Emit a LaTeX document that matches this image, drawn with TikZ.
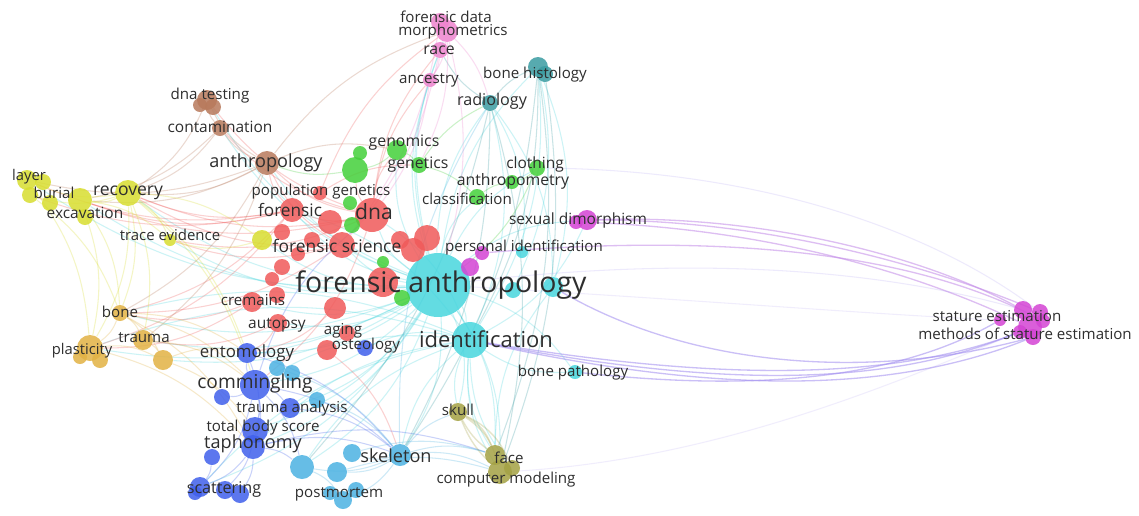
\documentclass[tikz,border=0pt]{standalone}
\usepackage{fontspec}
\setmainfont{Open Sans}
\pgfdeclarelayer{back}
\pgfdeclarelayer{bg}
\pgfsetlayers{back,bg,main}
\definecolor{vred}{HTML}{F05A5A}
\definecolor{vgreen}{HTML}{44D03A}
\definecolor{vblue}{HTML}{4060EC}
\definecolor{vyellow}{HTML}{D8DE30}
\definecolor{vmag}{HTML}{D444D4}
\definecolor{vcyan}{HTML}{48D6DE}
\definecolor{vsky}{HTML}{4CB2E2}
\definecolor{vorange}{HTML}{E2B244}
\definecolor{vbrown}{HTML}{B87A5C}
\definecolor{vpink}{HTML}{EE84CE}
\definecolor{vteal}{HTML}{3A9CA2}
\definecolor{volive}{HTML}{A4A244}
\definecolor{vlav}{HTML}{A08CF0}
\definecolor{vlav2}{HTML}{C28AE8}
\definecolor{labtxt}{HTML}{2E2E2E}
\newcommand\fsz[1]{\fontsize{#1}{#1}\selectfont}
\newcommand\vn[5]{\node[vc,fill=#5,minimum size=#4*0.04cm] (#1) at (#2,#3) {};}
\newcommand\vl[5]{\node[vlab,font=\fsz{#4}] (#1) at (#2,#3) {#5};}
\begin{document}
\begin{tikzpicture}[x=0.02cm,y=-0.02cm,
  vc/.style={circle,inner sep=0pt,draw=none,fill opacity=0.85},
  vlab/.style={inner sep=0pt,text=labtxt},
  lk/.style={line width=0.6pt,draw opacity=0.28},
  lkb/.style={line width=0.75pt,draw opacity=0.55}]
\useasboundingbox (0,0) rectangle (1139,515);
\begin{pgfonlayer}{back}
\fill[white] (0,0) rectangle (1139,515);
\end{pgfonlayer}
% ---------- circles ----------
% cyan
\vn{fa}{438}{285}{32}{vcyan}
\vn{ident}{470}{340}{18}{vcyan}
\vn{bpath}{575}{372}{7}{vcyan}
\vn{pid}{522}{252}{6}{vcyan}
\vn{cy1}{553}{287}{10}{vcyan}
\vn{cy2}{513}{290}{8}{vcyan}
% sky
\vn{skel}{400}{455}{11}{vsky}
\vn{sk1}{277}{368}{8}{vsky}
\vn{sk2}{292}{373}{8}{vsky}
\vn{sk3}{317}{400}{8}{vsky}
\vn{sk4}{302}{467}{12}{vsky}
\vn{sk5}{337}{472}{10}{vsky}
\vn{sk6}{352}{453}{9}{vsky}
\vn{sk7}{343}{500}{9}{vsky}
\vn{sk8}{356}{490}{8}{vsky}
\vn{sk9}{330}{493}{7}{vsky}
% blue
\vn{ento}{247}{353}{10}{vblue}
\vn{comm}{255}{385}{15}{vblue}
\vn{trana}{290}{408}{10}{vblue}
\vn{tbs}{255}{430}{13}{vblue}
\vn{taph}{253}{447}{12}{vblue}
\vn{bl1}{222}{397}{8}{vblue}
\vn{bl2}{212}{457}{8}{vblue}
\vn{scat1}{200}{487}{10}{vblue}
\vn{scat2}{225}{490}{9}{vblue}
\vn{scat3}{240}{494}{9}{vblue}
\vn{scat4}{195}{493}{7}{vblue}
\vn{ost}{365}{348}{8}{vblue}
% red
\vn{dna}{372}{215}{17}{vred}
\vn{forensic}{292}{210}{12}{vred}
\vn{popgen}{320}{193}{7}{vred}
\vn{r1}{330}{222}{12}{vred}
\vn{r2}{282}{232}{8}{vred}
\vn{fsci}{342}{245}{13}{vred}
\vn{r3}{312}{240}{8}{vred}
\vn{r4}{298}{254}{7}{vred}
\vn{r5}{282}{267}{8}{vred}
\vn{r6}{272}{279}{7}{vred}
\vn{r7}{277}{295}{8}{vred}
\vn{crem}{252}{302}{10}{vred}
\vn{aut}{278}{323}{9}{vred}
\vn{r8}{335}{308}{11}{vred}
\vn{r9}{383}{282}{15}{vred}
\vn{r10}{327}{350}{10}{vred}
\vn{aging}{347}{333}{8}{vred}
\vn{r11}{427}{238}{13}{vred}
\vn{r12}{413}{250}{12}{vred}
\vn{r13}{400}{240}{9}{vred}
% green
\vn{g1}{350}{203}{7}{vgreen}
\vn{g2}{352}{225}{8}{vgreen}
\vn{g3}{383}{262}{6}{vgreen}
\vn{g4}{402}{298}{8}{vgreen}
\vn{gen1}{360}{153}{7}{vgreen}
\vn{gen2}{355}{170}{13}{vgreen}
\vn{genomics}{397}{150}{10}{vgreen}
\vn{genetics}{419}{165}{8}{vgreen}
\vn{cloth}{537}{168}{8}{vgreen}
\vn{anthrom}{512}{182}{7}{vgreen}
\vn{classif}{477}{197}{8}{vgreen}
% magenta
\vn{sd}{587}{220}{10}{vmag}
\vn{sd2}{576}{222}{7}{vmag}
\vn{m1}{482}{253}{7}{vmag}
\vn{m2}{470}{267}{9}{vmag}
\vn{st1}{1030}{327}{12}{vmag}
\vn{st2}{1023}{310}{9}{vmag}
\vn{st3}{1040}{312}{8}{vmag}
\vn{st4}{1033}{337}{8}{vmag}
\vn{st5}{1020}{332}{7}{vmag}
\vn{st6}{1043}{321}{7}{vmag}
\vn{st7}{1000}{320}{6}{vmag}
% pink
\vn{fdata}{440}{22}{9}{vpink}
\vn{morph}{447}{31}{11}{vpink}
\vn{race}{440}{50}{8}{vpink}
\vn{anc}{430}{80}{7}{vpink}
% teal
\vn{bh}{538}{67}{10}{vteal}
\vn{bh2}{545}{74}{8}{vteal}
\vn{radio}{490}{103}{8}{vteal}
% brown
\vn{dnat}{207}{100}{10}{vbrown}
\vn{dnat2}{213}{107}{8}{vbrown}
\vn{dnat3}{200}{105}{7}{vbrown}
\vn{contam}{220}{128}{8}{vbrown}
\vn{anthro}{267}{163}{12}{vbrown}
% yellow
\vn{layer}{27}{180}{10}{vyellow}
\vn{layer2}{43}{182}{8}{vyellow}
\vn{burial}{30}{195}{8}{vyellow}
\vn{recov}{128}{193}{13}{vyellow}
\vn{exc}{80}{200}{12}{vyellow}
\vn{exc2}{85}{217}{8}{vyellow}
\vn{exc3}{50}{203}{8}{vyellow}
\vn{trace}{170}{240}{6}{vyellow}
\vn{y1}{262}{240}{10}{vyellow}
% orange
\vn{bone}{120}{313}{8}{vorange}
\vn{trauma}{143}{340}{10}{vorange}
\vn{plast}{90}{348}{13}{vorange}
\vn{plast2}{100}{360}{8}{vorange}
\vn{plast3}{80}{357}{7}{vorange}
\vn{o1}{163}{360}{10}{vorange}
% olive
\vn{skull}{458}{412}{9}{volive}
\vn{face}{495}{455}{10}{volive}
\vn{cm}{500}{472}{12}{volive}
\vn{cm2}{512}{468}{8}{volive}
% ---------- links ----------
\begin{pgfonlayer}{bg}
\foreach \a/\b in {fa/ident,fa/dna,fa/forensic,fa/fsci,fa/anthro,fa/recov,fa/exc,fa/layer,fa/bone,fa/plast,fa/trauma,fa/comm,fa/taph,fa/ento,fa/skel,fa/skull,fa/face,fa/cm,fa/radio,fa/bh,fa/morph,fa/race,fa/anc,fa/genomics,fa/cloth,fa/sd,fa/bpath,fa/crem,fa/aut,fa/sk4,fa/scat1,fa/tbs,fa/trana,fa/contam,fa/dnat,fa/trace,fa/o1,fa/y1,fa/classif}
  \draw[lk,vcyan] (\a) to[bend left=18] (\b);
\foreach \a/\b in {ident/skull,ident/face,ident/cm,ident/bpath,ident/skel,ident/radio,ident/bh,ident/comm,ident/taph,ident/sk4,ident/ost,ident/dna,ident/forensic,ident/sd,ident/cm2,ident/bone,ident/plast,ident/scat1,cy1/bh,cy1/radio,cy2/bh,pid/radio,cy1/face}
  \draw[lk,vcyan] (\a) to[bend right=18] (\b);
\foreach \a/\b in {dna/forensic,dna/anthro,dna/contam,dna/dnat,dna/genomics,dna/gen2,dna/recov,dna/exc,dna/race,dna/anc,dna/comm,dna/trace,forensic/anthro,forensic/recov,forensic/layer,forensic/burial,forensic/exc,forensic/bone,forensic/plast,fsci/anthro,fsci/recov,fsci/trace,fsci/y1,fsci/bone,crem/bone,crem/plast,aut/ento,aut/trauma,r10/skel,r8/ento,popgen/genetics,popgen/morph}
  \draw[lk,vred] (\a) to[bend left=16] (\b);
\foreach \a/\b in {anthro/contam,anthro/dnat,anthro/recov,anthro/exc,anthro/layer,anthro/trauma,anthro/bone,anthro/morph,anthro/genomics,contam/dnat,contam/recov,dnat/recov,contam/exc}
  \draw[lk,vbrown] (\a) to[bend left=16] (\b);
\foreach \a/\b in {recov/exc,recov/layer,recov/burial,recov/trace,recov/y1,recov/bone,recov/plast,recov/comm,recov/trauma,exc/bone,exc/plast,layer/plast,exc/trace,burial/bone,y1/trace,recov/ento}
  \draw[lk,vyellow] (\a) to[bend left=16] (\b);
\foreach \a/\b in {bone/trauma,bone/plast,bone/o1,bone/comm,bone/taph,bone/ento,trauma/o1,trauma/comm,plast/o1,o1/ento,o1/tbs,plast/taph}
  \draw[lk,vorange] (\a) to[bend left=16] (\b);
\foreach \a/\b in {comm/taph,comm/tbs,comm/scat1,comm/ento,comm/trana,comm/skel,comm/sk4,comm/bl1,taph/scat1,taph/scat3,taph/sk4,taph/skel,tbs/scat2,trana/skel,ento/taph,ento/skel,bl2/scat1,comm/dna,taph/face}
  \draw[lk,vblue] (\a) to[bend left=16] (\b);
\foreach \a/\b in {skel/sk4,skel/sk5,skel/sk6,skel/face,skel/cm,skel/skull,skel/sk7,sk4/sk7,sk5/cm,sk6/face,skel/radio,sk3/skel,sk1/skel}
  \draw[lk,vsky] (\a) to[bend left=16] (\b);
\foreach \a/\b in {skull/face,skull/cm,skull/cm2,face/cm}
  \draw[lk,volive,line width=0.8pt] (\a) to[bend left=20] (\b);
\foreach \a/\b in {skull/face,skull/cm}
  \draw[lk,volive,line width=0.8pt] (\a) to[bend right=12] (\b);
\foreach \a/\b in {radio/bh,radio/skel,radio/race,radio/sk4,radio/cm,bh/skel,bh/ident,bh/face,bh2/cm}
  \draw[lk,vteal] (\a) to[bend left=14] (\b);
\foreach \a/\b in {morph/race,morph/anc,morph/genetics,morph/radio,race/anc,race/fsci,anc/dna,fdata/fsci,morph/fa}
  \draw[lk,vpink] (\a) to[bend left=14] (\b);
\foreach \a/\b in {genomics/genetics,genomics/gen2,genetics/classif,classif/anthrom,cloth/anthrom,gen2/anthro,genetics/radio,cloth/fa}
  \draw[lk,vgreen] (\a) to[bend left=14] (\b);
% long bundles to stature estimation
\draw[lkb,vlav2] (sd) .. controls (760,214) and (920,255) .. (st2);
\draw[lkb,vlav2] (sd) .. controls (760,220) and (920,262) .. (st3);
\draw[lkb,vlav2] (sd2) .. controls (760,228) and (910,270) .. (st1);
\draw[lkb,vlav2] (m1) .. controls (760,230) and (930,262) .. (st6);
\draw[lkb,vlav] (ident) .. controls (700,384) and (880,392) .. (st1);
\draw[lkb,vlav] (ident) .. controls (700,390) and (880,398) .. (st4);
\draw[lkb,vlav] (ident) .. controls (700,378) and (880,384) .. (st5);
\draw[lkb,vlav] (bpath) .. controls (720,388) and (880,388) .. (st7);
\draw[lkb,vlav] (cy1) .. controls (700,372) and (880,378) .. (st4);
\draw[lk,vlav,draw opacity=0.18] (fa) .. controls (700,255) and (880,270) .. (st2);
\draw[lk,vlav,draw opacity=0.18] (cloth) .. controls (760,170) and (930,230) .. (st3);
\draw[lk,vlav,draw opacity=0.15] (cm) .. controls (720,460) and (900,380) .. (st5);
\draw[lk,vlav,draw opacity=0.15] (fa) .. controls (700,300) and (880,315) .. (st7);
\end{pgfonlayer}
% ---------- labels ----------
\vl{l-fa}{441}{285}{16.2}{forensic anthropology}
\vl{l-ident}{486}{339}{12.5}{identification}
\vl{l-bpath}{573}{373}{8.6}{bone pathology}
\vl{l-pid}{524}{248}{8.6}{personal identification}
\vl{l-sd}{578}{220}{8.8}{sexual dimorphism}
\vl{l-st1}{997}{316}{8.6}{stature estimation}
\vl{l-st2}{1025}{334}{8.6}{methods of stature estimation}
\vl{l-skel}{396}{456}{10.3}{skeleton}
\vl{l-postm}{339}{494}{8.6}{postmortem}
\vl{l-scat}{224}{489}{9.2}{scattering}
\vl{l-taph}{253}{444}{10.3}{taphonomy}
\vl{l-tbs}{263}{428}{8.6}{total body score}
\vl{l-trana}{292}{409}{8.6}{trauma analysis}
\vl{l-comm}{255}{384}{10.9}{commingling}
\vl{l-ento}{247}{353}{9.6}{entomology}
\vl{l-ost}{366}{346}{8.6}{osteology}
\vl{l-aging}{343}{331}{8.6}{aging}
\vl{l-aut}{277}{325}{8.8}{autopsy}
\vl{l-crem}{253}{300}{8.6}{cremains}
\vl{l-fsci}{337}{246}{9.9}{forensic science}
\vl{l-forensic}{290}{210}{9.8}{forensic}
\vl{l-dna}{374}{212}{12}{dna}
\vl{l-popgen}{321}{192}{8.6}{population genetics}
\vl{l-anthro}{266}{163}{10.3}{anthropology}
\vl{l-contam}{220}{127}{8.8}{contamination}
\vl{l-dnat}{210}{96}{8.6}{dna testing}
\vl{l-layer}{29}{177}{8.4}{layer}
\vl{l-burial}{54}{193}{8.6}{burial}
\vl{l-recov}{128}{193}{10}{recovery}
\vl{l-exc}{85}{213}{8.8}{excavation}
\vl{l-trace}{170}{235}{8.5}{trace evidence}
\vl{l-bone}{120}{312}{8.6}{bone}
\vl{l-trauma}{144}{338}{8.6}{trauma}
\vl{l-plast}{82}{351}{8.4}{plasticity}
\vl{l-skull}{458}{410}{8.6}{skull}
\vl{l-face}{509}{458}{8.6}{face}
\vl{l-cm}{506}{480}{8.6}{computer modeling}
\vl{l-genomics}{404}{143}{9}{genomics}
\vl{l-genetics}{418}{165}{9}{genetics}
\vl{l-cloth}{535}{164}{8.8}{clothing}
\vl{l-anthrom}{513}{181}{9}{anthropometry}
\vl{l-classif}{467}{199}{8.6}{classification}
\vl{l-fdata}{446}{17}{8.6}{forensic data}
\vl{l-morph}{453}{32}{8.6}{morphometrics}
\vl{l-race}{439}{50}{9}{race}
\vl{l-anc}{429}{80}{8.6}{ancestry}
\vl{l-bh}{535}{75}{8.6}{bone histology}
\vl{l-radio}{492}{101}{9.2}{radiology}
\end{tikzpicture}
\end{document}
